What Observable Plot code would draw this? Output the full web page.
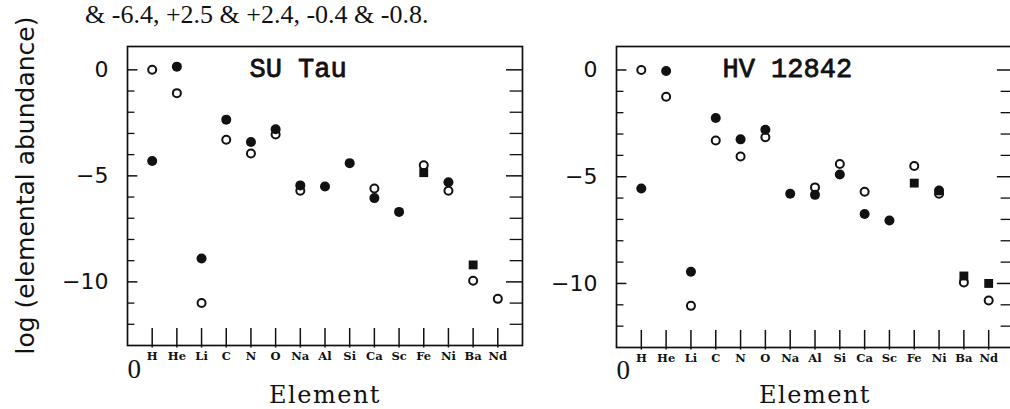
<!DOCTYPE html>
<html><head><meta charset="utf-8">
<script src="https://cdn.jsdelivr.net/npm/d3@7"></script>
<script src="https://cdn.jsdelivr.net/npm/@observablehq/plot@0.6"></script>
<style>
html,body{margin:0;padding:0;background:#fff;overflow:hidden;width:1010px;height:409px;}
#wrap{position:relative;width:1010px;height:409px;overflow:hidden;}
#caption{position:absolute;left:85px;top:2px;font-family:"Liberation Serif",serif;font-size:26px;line-height:1;color:#111;white-space:nowrap;}
#left{position:absolute;left:0;top:0;}
#right{position:absolute;left:520px;top:0;}
</style></head><body>
<div id="wrap">
<div id="caption">&amp; -6.4, +2.5 &amp; +2.4, -0.4 &amp; -0.8.</div>
<div id="left"></div><div id="right"></div>
</div>
<script>
const elements = ["H","He","Li","C","N","O","Na","Al","Si","Ca","Sc","Fe","Ni","Ba","Nd"];

// SU Tau: filled symbols (observed) and open circles
const suTauFilled = [-4.3, 0.15, -8.9, -2.35, -3.4, -2.8, -5.45, -5.5, -4.4, -6.05, -6.7, -4.85, -5.3, -9.2, null];
const suTauOpen   = [0.0, -1.1, -11.0, -3.3, -3.95, -3.05, -5.7, null, null, -5.6, null, -4.5, -5.7, -9.95, -10.8];
const suTauShape  = ["circle","circle","circle","circle","circle","circle","circle","circle","circle","circle","circle","square","circle","square","circle"];

// HV 12842
const hvFilled = [-5.55, -0.05, -9.45, -2.25, -3.25, -2.8, -5.8, -5.85, -4.9, -6.75, -7.05, -5.3, -5.65, -9.65, -10.0];
const hvOpen   = [0.0, -1.25, -11.05, -3.3, -4.05, -3.15, null, -5.5, -4.4, -5.7, null, -4.5, -5.8, -9.95, -10.8];
const hvShape  = ["circle","circle","circle","circle","circle","circle","circle","circle","circle","circle","circle","square","circle","square","square"];

const yTickLabels = [0, -5, -10];
const yMinorTicks = [-12, -11, -9, -8, -7, -6, -4, -3, -2, -1];
const xDomain = [0, 16];
const yDomain = [-13, 1.1];

const ink = "#111";

function rows(values, shapes) {
  return elements.map((e, k) => ({i: k + 1, el: e, v: values[k], s: shapes ? shapes[k] : "circle"}))
                 .filter(d => d.v != null);
}

function panel({title, filled, open, shape, width, marginLeft, marginRight, marginBottom, titleDx, originDy, elementDy, yLabel}) {
  const idx = elements.map((e, k) => k + 1);
  const marks = [
    Plot.frame({stroke: ink, strokeWidth: 1.7}),
    Plot.ruleY(yTickLabels, {x1: xDomain[0], x2: 0.42, stroke: ink, strokeWidth: 1.5}),
    Plot.ruleY(yMinorTicks, {x1: xDomain[0], x2: 0.3, stroke: ink, strokeWidth: 1.3}),
    Plot.ruleY(yTickLabels, {x1: xDomain[1], x2: xDomain[1] - 0.65, stroke: ink, strokeWidth: 1.5}),
    Plot.ruleY(yMinorTicks, {x1: xDomain[1], x2: xDomain[1] - 0.5, stroke: ink, strokeWidth: 1.3}),
    Plot.ruleX(idx, {y1: -13.12, y2: -12.2, stroke: ink, strokeWidth: 1.5}),
    Plot.axisY({ticks: yTickLabels, tickSize: 0, tickPadding: 19, label: null,
      fontSize: 22, fontFamily: "DejaVu Sans", fill: ink}),
    Plot.axisX({ticks: idx, tickFormat: d => elements[d - 1], tickSize: 0, tickPadding: 6, label: null,
      fontSize: 11.5, fontWeight: "bold", fontFamily: "DejaVu Serif", fill: ink}),
    Plot.text(["0"], {frameAnchor: "bottom-left", dy: originDy, lineAnchor: "middle",
      fontSize: 27, fontFamily: "Liberation Serif", fill: ink}),
    Plot.text(["Element"], {frameAnchor: "bottom", dy: elementDy, lineAnchor: "bottom",
      fontSize: 24, fontFamily: "DejaVu Serif", fill: ink}),
    Plot.text([title], {frameAnchor: "top-left", dx: titleDx, dy: 30, lineAnchor: "bottom", textAnchor: "start",
      fontSize: 27, fontFamily: "Liberation Mono", fill: ink, stroke: ink, strokeWidth: 0.8}),
    Plot.dot(rows(open), {x: "i", y: "v", r: 4, stroke: ink, strokeWidth: 2, fill: "white"}),
    Plot.dot(rows(filled, shape), {x: "i", y: "v", r: 5, fill: ink, symbol: "s"})
  ];
  if (yLabel) {
    marks.push(Plot.text([yLabel], {frameAnchor: "left", dx: -102, dy: -10.5, rotate: -90,
      textAnchor: "middle", lineAnchor: "middle",
      fontSize: 25, fontFamily: "DejaVu Sans", fill: ink}));
  }
  const svg = Plot.plot({
    width, height: 409, marginLeft, marginRight, marginTop: 46, marginBottom,
    x: {domain: xDomain},
    y: {domain: yDomain},
    style: {background: "transparent", color: ink, overflow: "visible", maxWidth: "none"},
    marks
  });
  svg.querySelectorAll("text").forEach(t => {
    if (t.textContent === "Element") t.style.letterSpacing = "1.5px";
  });
  return svg;
}

document.getElementById("left").appendChild(panel({
  title: "SU Tau", filled: suTauFilled, open: suTauOpen, shape: suTauShape,
  width: 540, marginLeft: 127, marginRight: 18, marginBottom: 64,
  titleDx: 122, originDy: 24, elementDy: 57, yLabel: "log (elemental abundance)"
}));
document.getElementById("right").appendChild(panel({
  title: "HV 12842", filled: hvFilled, open: hvOpen, shape: hvShape,
  width: 503, marginLeft: 96, marginRight: 10, marginBottom: 62,
  titleDx: 106, originDy: 23, elementDy: 55, yLabel: null
}));
</script>
</body></html>
